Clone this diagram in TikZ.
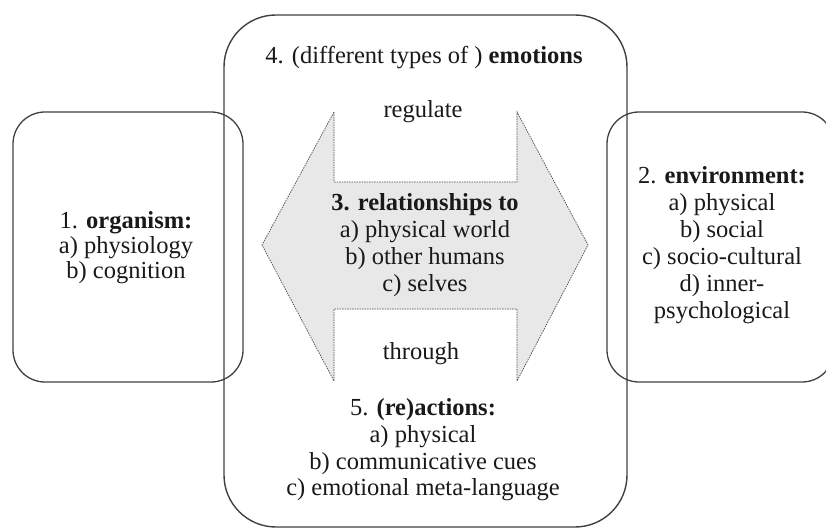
\documentclass[tikz,border=0pt]{standalone}
\usepackage{fontspec}
\setmainfont{Liberation Serif}
\begin{document}
\begin{tikzpicture}[x=1pt,y=-1pt,
  box/.style={draw=black!75,line width=1.3pt,minimum height=270pt,rounded corners=32pt},
  bigbox/.style={draw=black!75,line width=1.4pt,minimum width=403pt,minimum height=512pt,rounded corners=52pt},
  txt/.style={align=center,inner sep=0pt,font=\fontsize{24.5}{27}\selectfont,text=black!90},
  relarrow/.style={draw=black!70,line width=0.7pt,dash pattern=on 1.5pt off 1pt,fill=black!9}]
\useasboundingbox (0,0) rectangle (826,529);
\clip (0,0) rectangle (826,529);
\node[bigbox] (emo) at (425.5,271) {};
\node[box,minimum width=230pt] (org) at (128,247) {};
\node[box,minimum width=227pt] (env) at (720.5,247) {};
\draw[relarrow] (334,112) coordinate (ntl) -- (334,182) -- (517,182) -- (517,112)
  -- (588,245) coordinate (rtip) -- (517,381) -- (517,309) -- (334,309) -- (334,381)
  -- (262,245) coordinate (ltip) -- cycle;
\node[txt] (t4) at (424,58) {4. (different types of~) \textbf{emotions}};
\node[txt] (reg) at (423,112) {regulate};
\node[txt] (t3) at (425,245.5) {\textbf{3. relationships to}\\a) physical world\\b) other humans\\c) selves};
\node[txt] (thr) at (421,354) {through};
\node[txt,font=\fontsize{24.5}{26.7}\selectfont] (t5) at (423,450) {5. \textbf{(re)actions:}\\a) physical\\b) communicative cues\\c) emotional meta-language};
\node[txt,font=\fontsize{24.5}{25}\selectfont] (t1) at (126,248) {1. \textbf{organism:}\\a) physiology\\b) cognition};
\node[txt] (t2) at (722,245.5) {2. \textbf{environment:}\\a) physical\\b) social\\c) socio-cultural\\d) inner-\\psychological};
\end{tikzpicture}
\end{document}
